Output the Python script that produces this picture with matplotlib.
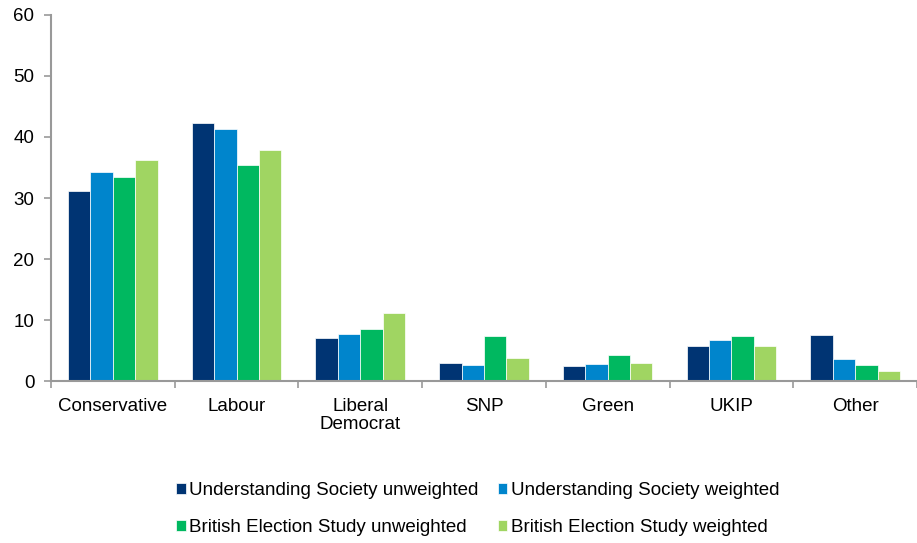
import numpy as np
import matplotlib
matplotlib.use("Agg")
import matplotlib.pyplot as plt

plt.rcParams['font.family'] = ['Liberation Sans', 'DejaVu Sans']

parties = ['Conservative', 'Labour', 'Liberal\nDemocrat', 'SNP', 'Green', 'UKIP', 'Other']
us_unweighted = [31.1, 42.3, 7.0, 2.9, 2.5, 5.7, 7.5]
us_weighted = [34.3, 41.3, 7.7, 2.7, 2.8, 6.7, 3.6]
bes_unweighted = [33.4, 35.4, 8.6, 7.4, 4.3, 7.4, 2.7]
bes_weighted = [36.2, 37.8, 11.1, 3.7, 3.0, 5.7, 1.6]

series = [
    ('Understanding Society unweighted', us_unweighted, '#003473'),
    ('Understanding Society weighted', us_weighted, '#0085CC'),
    ('British Election Study unweighted', bes_unweighted, '#00B860'),
    ('British Election Study weighted', bes_weighted, '#A0D562'),
]

fig = plt.figure(figsize=(9.17, 5.43), dpi=100)
ax = fig.add_axes([0.0556, 0.2983, 0.9444, 0.6741])

x = np.arange(len(parties))
width = 0.181
bars = {}
for i, (name, vals, color) in enumerate(series):
    bars[name] = ax.bar(x + (i - 1.5) * width, vals, width, color=color,
                        edgecolor='white', linewidth=0.5, label=name)

ax.set_xlim(-0.5, len(parties) - 0.5)
ax.set_ylim(0, 60)
ax.set_yticks(range(0, 61, 10))
ax.tick_params(axis='y', labelsize=13.5, length=5, color='#999999', width=1.2, pad=7)

# category labels, ticks on boundaries
ax.set_xticks(np.arange(len(parties) + 1) - 0.5)
ax.set_xticklabels([])
ax.set_xticks(x, minor=True)
ax.set_xticklabels(parties, minor=True, fontsize=13.5, linespacing=1.1)
ax.tick_params(axis='x', which='minor', length=0, pad=12)
ax.tick_params(axis='x', which='major', length=5, color='#999999', width=1.2)

for s in ['top', 'right']:
    ax.spines[s].set_visible(False)
for s in ['left', 'bottom']:
    ax.spines[s].set_color('#999999')
    ax.spines[s].set_linewidth(1.5)

order = [series[0][0], series[2][0], series[1][0], series[3][0]]
fig.legend([bars[n] for n in order], order, loc='center', bbox_to_anchor=(0.521, 0.062),
           ncol=2, frameon=False, fontsize=13.5, handlelength=0.5, handleheight=0.5,
           handletextpad=0.2, columnspacing=1.0, labelspacing=1.05)

fig.savefig('out.png', dpi=100)
